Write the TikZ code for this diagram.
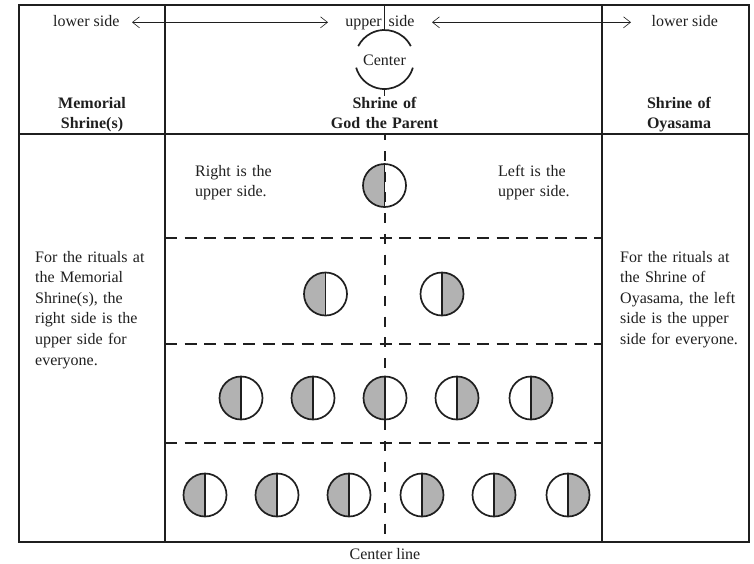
\documentclass[tikz,border=0pt]{standalone}
\usepackage{fontspec}
\setmainfont{Liberation Serif}
\usetikzlibrary{arrows.meta}
\definecolor{ink}{rgb}{0.12,0.12,0.12}
\definecolor{seatgray}{rgb}{0.70,0.70,0.70}
\tikzset{
  frame/.style={line width=1.5pt, draw=ink},
  divider/.style={line width=1.3pt, draw=ink},
  rowline/.style={line width=1.6pt, draw=ink, dash pattern=on 12pt off 7.5pt},
  centerline/.style={line width=1.4pt, draw=ink, dash pattern=on 10pt off 10.7pt, dash phase=3.7pt},
  sidearrow/.style={line width=0.6pt, draw=ink, {Straight Barb[length=7pt,width=11pt]}-{Straight Barb[length=7pt,width=11pt]}},
  label/.style={inner sep=0pt, text=ink, font=\fontsize{16}{20.6}\selectfont},
  heading/.style={inner sep=0pt, text=ink, font=\fontsize{16}{20}\selectfont\bfseries, align=center, text width=150pt},
  note/.style={inner sep=0pt, text=ink, font=\fontsize{16}{20.6}\selectfont, align=left, text width=130pt},
  seat fill/.style={fill=seatgray},
  seat rim/.style={line width=1.7pt, draw=ink},
  seat mid/.style={line width=1.4pt, draw=ink},
  pics/seat/.style={code={
    \fill[seat fill] (0,-21.5) arc[start angle=270, end angle=#1, radius=21.5] -- cycle;
    \draw[seat rim] (0,0) circle[radius=21.5];
    \draw[seat mid] (0,-21.5) -- (0,21.5);
  }},
}
\begin{document}
\begin{tikzpicture}[x=1pt, y=-1pt]
\useasboundingbox (0,0) rectangle (754,563);

% table frame and columns
\draw[frame] (19,5) rectangle (749,542);
\draw[divider] (165,5) -- (165,542);
\draw[divider] (602,5) -- (602,542);
\draw[divider] (19,134) -- (749,134);

% dashed row separators in the middle column
\draw[rowline] (165,238) -- (602,238);
\draw[rowline] (165,344) -- (602,344);
\draw[rowline] (165,443) -- (602,443);

% center line
\coordinate (cltop) at (385,134);
\coordinate (clbot) at (385,542);
\draw[centerline] (cltop) -- (clbot);
\node[label, anchor=base] (cllabel) at (385,559.5) {Center line};

% header: sides and arrows
\node[label, anchor=base west] (lowL) at (53,26.5) {lower side};
\node[label, anchor=base east] (upA) at (382,26.5) {upper};
\node[label, anchor=base west] (upB) at (388.5,26.5) {side};
\node[label, anchor=base west] (lowR) at (651.5,26.5) {lower side};
\coordinate (aL1) at (132,22.3);
\coordinate (aL2) at (328,22.3);
\coordinate (aR1) at (432,22.3);
\coordinate (aR2) at (631,22.3);
\draw[sidearrow] (aL1) -- (aL2);
\draw[sidearrow] (aR1) -- (aR2);

% center mark
\node[label, anchor=base] (ctr) at (384.5,65) {Center};
\coordinate (ctrmid) at (384.5,59.5);
\draw[seat rim] ([shift={(333:29.5)}]ctrmid) arc[start angle=333, end angle=207, radius=29.5];
\draw[seat rim] ([shift={(16:29.5)}]ctrmid) arc[start angle=16, end angle=164, radius=29.5];
\coordinate (tickA) at (384.5,5);
\coordinate (tickB) at (384.5,30);
\coordinate (tickC) at (384.5,89);
\coordinate (tickD) at (384.5,96);
\draw[divider, line width=1.1pt] (tickA) -- (tickB);
\draw[divider, line width=1.1pt] (tickC) -- (tickD);

% column headings
\node[heading, anchor=base] (hMem) at (92,108) {Memorial\\Shrine(s)};
\node[heading, anchor=base] (hGod) at (384.5,108) {Shrine of\\God the Parent};
\node[heading, anchor=base] (hOya) at (679,108) {Shrine of\\Oyasama};

% notes
\node[note, anchor=base west] (nRight) at (195,176) {Right is the\\upper side.};
\node[note, anchor=base west] (nLeft) at (498,176) {Left is the\\upper side.};
\node[note, anchor=base west] (nMem) at (35,262) {For the rituals at\\the Memorial\\Shrine(s), the\\right side is the\\upper side for\\everyone.};
\node[note, anchor=base west] (nOya) at (620,262) {For the rituals at\\the Shrine of\\Oyasama, the left\\side is the upper\\side for everyone.};

% seats: 90 = left half shaded, 450 = right half shaded
\pic (r1a) at (384.5,185.5) {seat=90};

\pic (r2a) at (325.5,294) {seat=90};
\pic (r2b) at (442,294) {seat=450};

\pic (r3a) at (241,398) {seat=90};
\pic (r3b) at (313,398) {seat=90};
\pic (r3c) at (385,398) {seat=90};
\pic (r3d) at (457,398) {seat=450};
\pic (r3e) at (531,398) {seat=450};

\pic (r4a) at (205,495) {seat=90};
\pic (r4b) at (277,495) {seat=90};
\pic (r4c) at (349,495) {seat=90};
\pic (r4d) at (422,495) {seat=450};
\pic (r4e) at (494,495) {seat=450};
\pic (r4f) at (568,495) {seat=450};
\end{tikzpicture}
\end{document}
